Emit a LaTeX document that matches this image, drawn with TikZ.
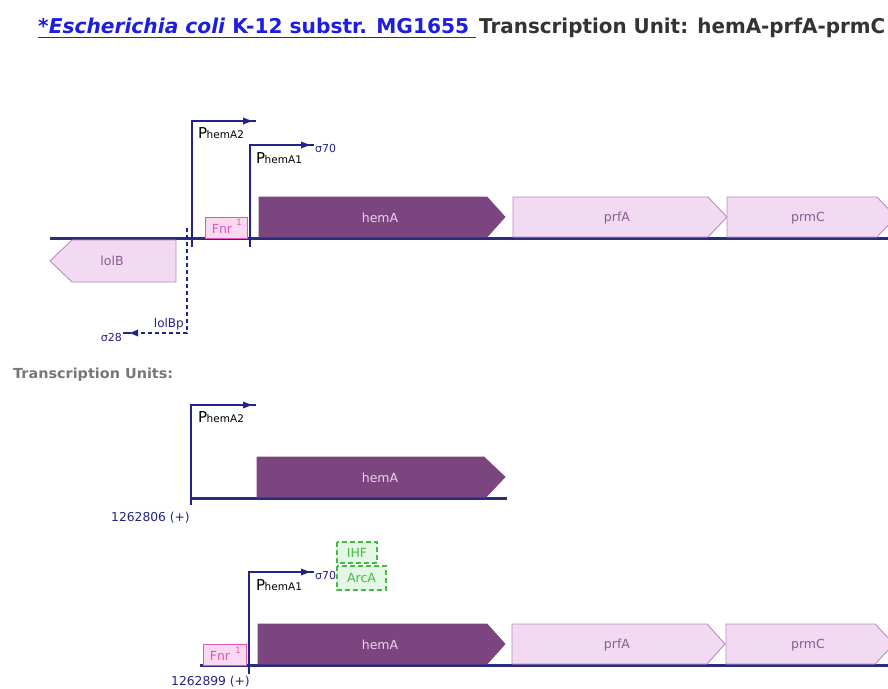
\documentclass[tikz,border=0pt]{standalone}
\usepackage{fontspec}
\setmainfont{DejaVu Sans}
\usetikzlibrary{arrows.meta}
\definecolor{dna}{HTML}{2B2B7F}
\definecolor{prom}{HTML}{22228A}
\definecolor{genedark}{HTML}{7B4580}
\definecolor{genedarktext}{HTML}{EBD3EB}
\definecolor{genelight}{HTML}{F2DAF2}
\definecolor{geneedge}{HTML}{B98DBE}
\definecolor{genetext}{HTML}{8A5A90}
\definecolor{fnrfill}{HTML}{FAD8F0}
\definecolor{fnredge}{HTML}{E055B5}
\definecolor{ihffill}{HTML}{E4F7E4}
\definecolor{ihfedge}{HTML}{44BB44}
\definecolor{linkblue}{HTML}{1E1EE0}
\definecolor{titlegray}{HTML}{333333}
\definecolor{tugray}{HTML}{777777}
\newcommand{\fs}[1]{\fontsize{#1}{#1}\selectfont}
\newcommand{\promname}[1]{{\fs{15}P}\kern-0.5pt{\fs{10.5}#1}}
\newcommand{\tipright}[2]{\fill[prom] (#1,#2) -- ++(-9,-3.5) -- ++(0,7) -- cycle;}
\newcommand{\tipleft}[2]{\fill[prom] (#1,#2) -- ++(8,-3.5) -- ++(0,7) -- cycle;}
\begin{document}
\begin{tikzpicture}[x=1pt,y=-1pt,
  dnaline/.style={draw=dna,line width=3pt},
  promline/.style={draw=prom,line width=1.6pt},
  geneD/.style={fill=genedark,draw=genedark,line width=0.8pt},
  geneL/.style={fill=genelight,draw=geneedge,line width=0.9pt},
  glabD/.style={text=genedarktext,font=\fs{12.5},inner sep=0},
  glabL/.style={text=genetext,font=\fs{12.5},inner sep=0},
  fnrbox/.style={fill=fnrfill,draw=fnredge,line width=1pt},
  fnrtext/.style={text=fnredge,font=\fs{12.5},inner sep=0},
  tfbox/.style={fill=ihffill,draw=ihfedge,dash pattern=on 5pt off 3pt,line width=1.2pt},
  tftext/.style={text=ihfedge,font=\fs{12.5},inner sep=0},
  plabel/.style={anchor=base west,inner sep=0,text=black},
  sigma/.style={anchor=west,inner sep=0,text=prom,font=\fs{11}},
  coord/.style={anchor=base east,inner sep=0,text=prom,font=\fs{12.3}}]
\useasboundingbox (0,0) rectangle (888,688);
\clip (0,0) rectangle (888,688);
\fill[white] (0,0) rectangle (888,688);
% title
\node[anchor=base west,inner sep=0,text=linkblue,font=\bfseries] (t1) at (38,33)
  {\resizebox{431pt}{15.5pt}{*\textit{Escherichia coli} K-12 substr. MG1655}};
\draw[linkblue,line width=1.4pt] (38,37.5) -- (476,37.5);
\node[anchor=base west,inner sep=0,text=titlegray,font=\bfseries] (t2) at (479,33)
  {\resizebox{406pt}{15.5pt}{Transcription Unit: hemA-prfA-prmC}};

% ===== top map =====
\draw[dnaline] (50,238) -- (888,238);
% lolB
\path[geneL] (176,240) -- (72,240) -- (50,261) -- (72,282) -- (176,282) -- cycle;
\node[glabL] (lolB) at (112,261) {lolB};
% lolBp
\draw[promline,dash pattern=on 4pt off 3pt] (187,228) -- (187,333) -- (139,333);
\tipleft{130}{333}
\draw[promline] (131,333) -- (123,333);
\node[anchor=base east,inner sep=0,text=prom,font=\fs{12}] (lolBp) at (184,327) {lolBp};
\node[anchor=east,inner sep=0,text=prom,font=\fs{11}] (s28) at (122,337) {σ28};
% PhemA2
\draw[promline] (192,247) -- (192,121) -- (256,121);
\tipright{252}{121}
\node[plabel] (pa2) at (198,138) {\promname{hemA2}};
% PhemA1
\draw[promline] (250,247) -- (250,145) -- (314,145);
\tipright{310}{145}
\node[sigma] (s70a) at (315,148) {σ70};
\node[plabel] (pa1) at (256,163) {\promname{hemA1}};
% Fnr
\path[fnrbox] (205,217) rectangle (247,238);
\node[fnrtext] (fnra) at (222,229) {Fnr};
\node[fnrtext,font=\fs{8.5}] (fnra1) at (239,222) {1};
% genes
\path[geneD] (259,197) -- (487,197) -- (505,217) -- (487,237) -- (259,237) -- cycle;
\node[glabD] (hemAa) at (380,218) {hemA};
\path[geneL] (513,197) -- (708,197) -- (727,217) -- (708,237) -- (513,237) -- cycle;
\node[glabL] (prfAa) at (617,218) {prfA};
\path[geneL] (727,197) -- (877,197) -- (896,217) -- (877,237) -- (727,237) -- cycle;
\node[glabL] (prmCa) at (808,218) {prmC};

% ===== TU label =====
\node[anchor=base west,inner sep=0,text=tugray,font=\bfseries] (tu) at (13,378)
  {\resizebox{160pt}{10.5pt}{Transcription Units:}};

% ===== TU 1 =====
\draw[dnaline] (190,498) -- (507,498);
\draw[promline] (191,505) -- (191,405) -- (256,405);
\tipright{252}{405}
\node[plabel] (pb2) at (198,422) {\promname{hemA2}};
\path[geneD] (257,457) -- (484,457) -- (505,477) -- (486,497) -- (257,497) -- cycle;
\node[glabD] (hemAb) at (380,478) {hemA};
\node[coord] (c1) at (190,521) {1262806 (+)};

% ===== TU 2 =====
\draw[dnaline] (200,665) -- (888,665);
\path[fnrbox] (203,644) rectangle (246,665);
\node[fnrtext] (fnrb) at (220,656) {Fnr};
\node[fnrtext,font=\fs{8.5}] (fnrb1) at (238,650) {1};
\draw[promline] (249,674) -- (249,572) -- (314,572);
\tipright{310}{572}
\node[sigma] (s70b) at (315,575) {σ70};
\node[plabel] (pb1) at (256,590) {\promname{hemA1}};
\path[tfbox] (337,542) rectangle (377,563);
\node[tftext] (ihf) at (357,553) {IHF};
\path[tfbox] (337,566) rectangle (386,590);
\node[tftext] (arca) at (361.5,578) {ArcA};
\path[geneD] (258,624) -- (487,624) -- (505,644) -- (487,664) -- (258,664) -- cycle;
\node[glabD] (hemAc) at (380,645) {hemA};
\path[geneL] (512,624) -- (707,624) -- (725,644) -- (707,664) -- (512,664) -- cycle;
\node[glabL] (prfAc) at (617,645) {prfA};
\path[geneL] (726,624) -- (875,624) -- (894,644) -- (875,664) -- (726,664) -- cycle;
\node[glabL] (prmCc) at (808,645) {prmC};
\node[coord] (c2) at (250,685) {1262899 (+)};
\end{tikzpicture}
\end{document}
